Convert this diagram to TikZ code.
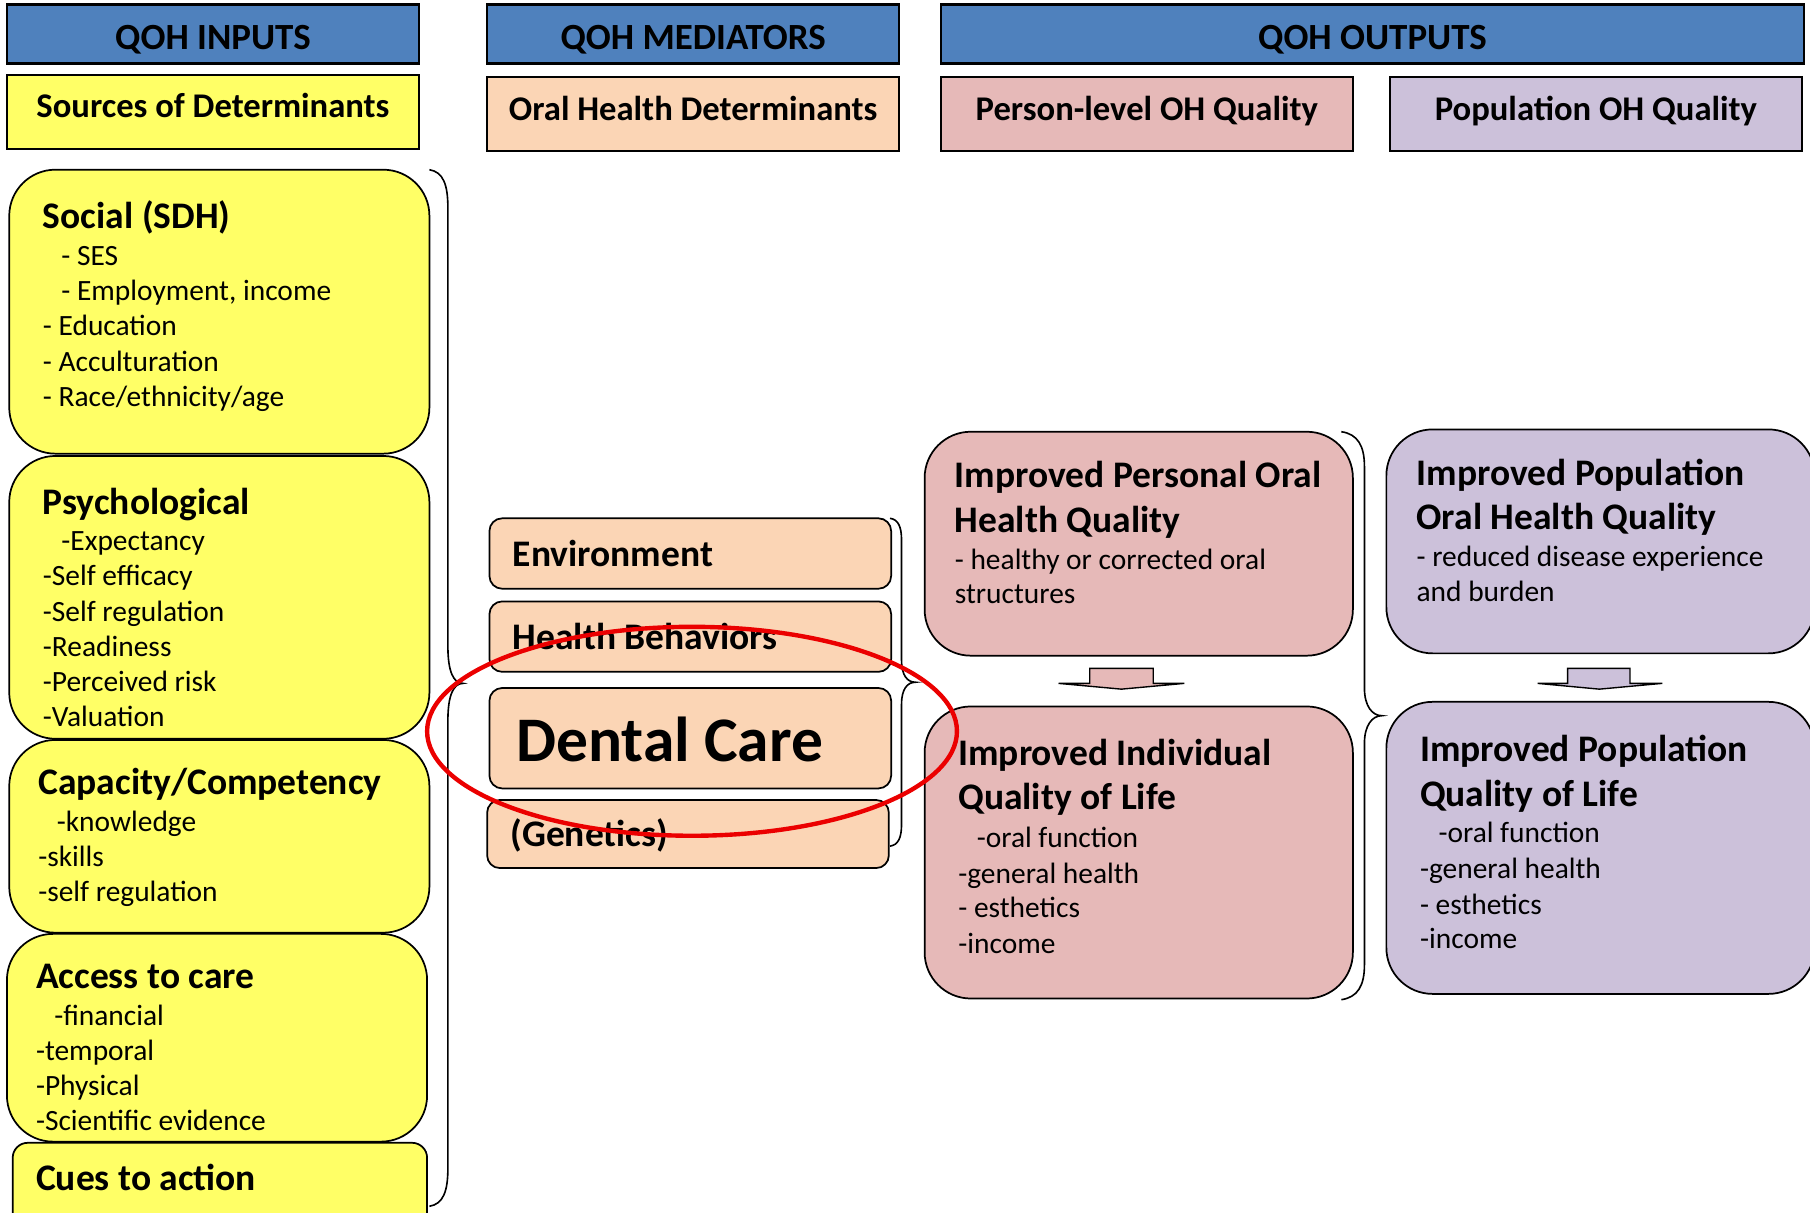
\documentclass[tikz,border=0pt]{standalone}
\usepackage{fontspec}
\setmainfont{Carlito}
\usetikzlibrary{shapes.geometric}
\definecolor{hdrblue}{RGB}{79,129,189}
\definecolor{ylw}{RGB}{255,255,102}
\definecolor{peach}{RGB}{251,213,181}
\definecolor{pinkq}{RGB}{230,185,184}
\definecolor{lavq}{RGB}{204,193,218}
\definecolor{ringred}{RGB}{235,0,0}
\begin{document}
\begin{tikzpicture}[x=1pt,y=-1pt,
  hdrbox/.style={draw=black, line width=2pt, fill=hdrblue, rectangle, inner sep=0, minimum height=51},
  subbox/.style={draw=black, line width=2pt, rectangle, inner sep=0, minimum height=64, minimum width=357},
  rbox/.style={draw=black, line width=1.5pt, rectangle, rounded corners=40pt, inner sep=0},
  mbox/.style={draw=black, line width=1.5pt, fill=peach, rectangle, rounded corners=11pt, inner sep=0, minimum width=348},
  htxt/.style={anchor=base, inner sep=0, font=\bfseries\fontsize{32}{38}\selectfont},
  stxt/.style={anchor=base, inner sep=0, font=\bfseries\fontsize{30}{36}\selectfont},
  ttl/.style={anchor=base west, inner sep=0, font=\bfseries\fontsize{32.5}{38}\selectfont},
  mttl/.style={anchor=base west, inner sep=0, font=\bfseries\fontsize{32.5}{38}\selectfont},
  body/.style={anchor=base west, inner sep=0, font=\fontsize{25.5}{30}\selectfont},
  brc/.style={draw=black, line width=1.4pt},
  blockarrow/.style={draw=black, line width=1.2pt}]
\useasboundingbox (0,0) rectangle (1568,1050);

% headers
\node[hdrbox, minimum width=357] (hin) at (184.5,29.5) {};
\node[hdrbox, minimum width=357] (hmed) at (600.5,29.5) {};
\node[hdrbox, minimum width=748] (hout) at (1189,29.5) {};
\node[htxt] (thin) at (184.5,43) {QOH INPUTS};
\node[htxt] (thmed) at (600.5,43) {QOH MEDIATORS};
\node[htxt] (thout) at (1189,43) {QOH OUTPUTS};

\node[subbox, fill=ylw] (sin) at (184.5,97) {};
\node[subbox, fill=peach] (smed) at (600.5,99) {};
\node[subbox, fill=pinkq] (sper) at (993.5,99) {};
\node[subbox, fill=lavq] (spop) at (1382.5,99) {};
\node[stxt] (tsin) at (184.5,102) {Sources of Determinants};
\node[stxt] (tsmed) at (600.5,104) {Oral Health Determinants};
\node[stxt] (tsper) at (993.5,104) {Person-level OH Quality};
\node[stxt] (tspop) at (1382.5,104) {Population OH Quality};

% input boxes
\node[rbox, fill=ylw, minimum width=364, minimum height=246] (social) at (190,270) {};
\node[rbox, fill=ylw, minimum width=364, minimum height=245] (psych) at (190,517.5) {};
\node[rbox, fill=ylw, minimum width=364, minimum height=167] (capac) at (190,724.5) {};
\node[rbox, fill=ylw, minimum width=364, minimum height=180] (access) at (188,899) {};
\node[rbox, fill=ylw, rounded corners=13pt, minimum width=359, minimum height=80] (cues) at (190.5,1030) {};

\node[ttl] (t1) at (37,198) {Social (SDH)};
\node[body] (t1a) at (53,230) {- SES};
\node[body] (t1b) at (53,260.5) {- Employment, income};
\node[body] (t1c) at (37,291) {- Education};
\node[body] (t1d) at (37,321.5) {- Acculturation};
\node[body] (t1e) at (37,352) {- Race/ethnicity/age};

\node[ttl] (t2) at (37,445.5) {Psychological};
\node[body] (t2a) at (53,477) {-Expectancy};
\node[body] (t2b) at (37,507.5) {-Self efficacy};
\node[body] (t2c) at (37,538) {-Self regulation};
\node[body] (t2d) at (37,568.5) {-Readiness};
\node[body] (t2e) at (37,599) {-Perceived risk};
\node[body] (t2f) at (37,629.5) {-Valuation};

\node[ttl] (t3) at (33,688.5) {Capacity/Competency};
\node[body] (t3a) at (49,720) {-knowledge};
\node[body] (t3b) at (33,750.5) {-skills};
\node[body] (t3c) at (33,781) {-self regulation};

\node[ttl] (t4) at (31,856.5) {Access to care};
\node[body] (t4a) at (47,888) {-financial};
\node[body] (t4b) at (31,918.5) {-temporal};
\node[body] (t4c) at (31,949) {-Physical};
\node[body] (t4d) at (31,979.5) {-Scientific evidence};

\node[ttl] (t5) at (31,1031.5) {Cues to action};

% mediator boxes
\node[mbox, minimum height=61] (env) at (598,479.5) {};
\node[mbox, minimum height=61] (hb) at (598,551.5) {};
\node[mbox, minimum height=87] (dc) at (598,639.5) {};
\node[mbox, minimum height=59] (gen) at (596,722.5) {};
\node[mttl] (tenv) at (444,491) {Environment};
\node[mttl] (thb) at (444,563) {Health Behaviors};
\node[anchor=base west, inner sep=0, font=\bfseries\fontsize{55}{60}\selectfont] (tdc) at (447,660) {Dental Care};
\node[mttl] (tgen) at (442,733) {(Genetics)};

% output boxes
\node[rbox, fill=pinkq, minimum width=371, minimum height=194] (ptop) at (986.5,471) {};
\node[rbox, fill=pinkq, minimum width=371, minimum height=253] (pbot) at (986.5,738.5) {};
\node[rbox, fill=lavq, minimum width=371, minimum height=194] (vtop) at (1386.5,469) {};
\node[rbox, fill=lavq, minimum width=371, minimum height=253] (vbot) at (1386.5,734.5) {};

\node[ttl] (p1) at (827,422.5) {Improved Personal Oral};
\node[ttl] (p2) at (827,461.5) {Health Quality};
\node[body] (p3) at (827,493) {- healthy or corrected oral};
\node[body] (p4) at (827,523) {structures};

\node[ttl] (q1) at (830,663.5) {Improved Individual};
\node[ttl] (q2) at (830,701.5) {Quality of Life};
\node[body] (q3) at (846,734) {-oral function};
\node[body] (q4) at (830,765) {-general health};
\node[body] (q5) at (830,795) {- esthetics};
\node[body] (q6) at (830,826) {-income};

\node[ttl] (v1) at (1227,420.5) {Improved Population};
\node[ttl] (v2) at (1227,458.5) {Oral Health Quality};
\node[body] (v3) at (1227,491) {- reduced disease experience};
\node[body] (v4) at (1227,521) {and burden};

\node[ttl] (w1) at (1230,659.5) {Improved Population};
\node[ttl] (w2) at (1230,698.5) {Quality of Life};
\node[body] (w3) at (1246,730) {-oral function};
\node[body] (w4) at (1230,761) {-general health};
\node[body] (w5) at (1230,792) {- esthetics};
\node[body] (w6) at (1230,822) {-income};

% block arrows
\draw[blockarrow, fill=pinkq] (944,579) -- (999,579) -- (999,592) -- (1026,592) -- (971.5,597) -- (917,592) -- (944,592) -- cycle;
\draw[blockarrow, fill=lavq] (1358,579) -- (1412,579) -- (1412,592) -- (1440,592) -- (1385.5,597) -- (1332,592) -- (1358,592) -- cycle;

% braces
\draw[brc] (372,147) .. controls (384,149) and (388,160) .. (388,180) -- (388,560) .. controls (388,582) and (393,592) .. (401,592) .. controls (393,592) and (388,602) .. (388,624) -- (388,1012) .. controls (388,1032) and (384,1043) .. (372,1045);
\draw[brc] (771,449) .. controls (778,450) and (781,456) .. (781,468) -- (781,572) .. controls (781,585) and (786,591) .. (793,591) .. controls (786,591) and (781,597) .. (781,610) -- (781,714) .. controls (781,726) and (778,732) .. (771,733);
\draw[brc] (1162,374) .. controls (1176,376) and (1182,386) .. (1182,404) -- (1182,596) .. controls (1182,612) and (1189,620) .. (1197,620) .. controls (1189,620) and (1182,628) .. (1182,644) -- (1182,836) .. controls (1182,854) and (1176,864) .. (1162,866);

% red ring
\node[draw=ringred, line width=3.8pt, ellipse, inner sep=0, minimum width=459, minimum height=181] (ring) at (599.5,633.5) {};
\end{tikzpicture}
\end{document}
